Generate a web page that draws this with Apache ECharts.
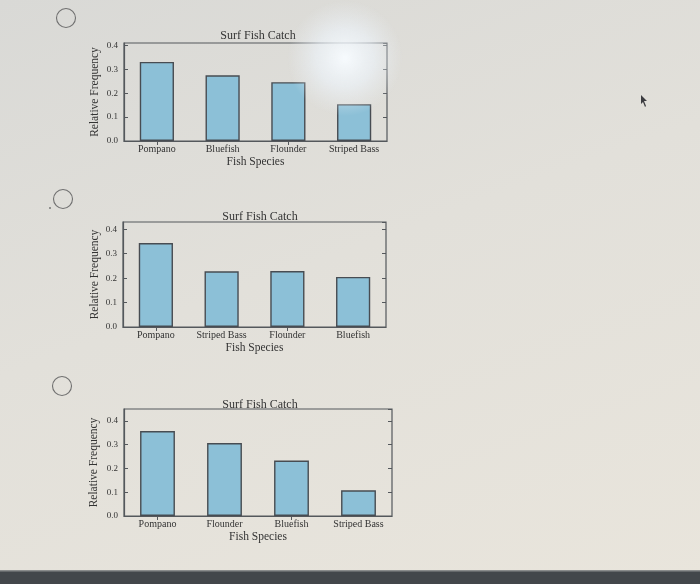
<!DOCTYPE html>
<html>
<head>
<meta charset="utf-8">
<script src="https://cdn.jsdelivr.net/npm/echarts@6/dist/echarts.min.js"></script>
<style>
html,body{margin:0;padding:0;}
body{width:700px;height:584px;overflow:hidden;
background:linear-gradient(160deg,#d9d9d6 0%,#e2e0da 45%,#e9e5dc 100%);}
#chart{width:700px;height:584px;}
</style>
</head>
<body>
<div id="chart"></div>
<script>
// ---- data ----
const chartTitle = 'Surf Fish Catch';
const xTitle = 'Fish Species';
const yTitle = 'Relative Frequency';
const categories1 = ['Pompano', 'Bluefish', 'Flounder', 'Striped Bass'];
const values1 = [0.331, 0.275, 0.246, 0.154];
const categories2 = ['Pompano', 'Striped Bass', 'Flounder', 'Bluefish'];
const values2 = [0.344, 0.228, 0.229, 0.205];
const categories3 = ['Pompano', 'Flounder', 'Bluefish', 'Striped Bass'];
const values3 = [0.357, 0.307, 0.233, 0.108];
const yMaxes = [0.41, 0.43, 0.45];
const yTickStep = 0.1;

const panels = [
  {cats: categories1, vals: values1},
  {cats: categories2, vals: values2},
  {cats: categories3, vals: values3}
];
// layout (not data)
const layout = [
  {left: 124, top: 43, width: 263, height: 98, titleX: 253, titleY: 25, yGap: 23},
  {left: 123, top: 222, width: 263, height: 105, titleX: 255, titleY: 206, yGap: 22},
  {left: 124, top: 409, width: 268, height: 107, titleX: 255, titleY: 394, yGap: 24}
];

const FONT = '"Liberation Serif", "DejaVu Serif", serif';
const TXT = '#333333';
const FRAME = '#54585c';
const BAR = '#8cc0d7';
const EDGE = '#474c52';

const grid = [], xAxis = [], yAxis = [], series = [], title = [];
panels.forEach((p, i) => {
  const L = layout[i];
  grid.push({left: L.left, top: L.top, width: L.width, height: L.height,
    show: true, borderColor: FRAME, borderWidth: 1.2, backgroundColor: 'transparent'});
  title.push({text: chartTitle, left: L.titleX, top: L.titleY, textAlign: 'center',
    textStyle: {fontFamily: FONT, fontSize: 12, fontWeight: 'normal', color: TXT}});
  xAxis.push({type: 'category', gridIndex: i, data: p.cats, position: 'bottom',
    name: xTitle, nameLocation: 'middle', nameGap: 15,
    nameTextStyle: {fontFamily: FONT, fontSize: 11.5, color: TXT},
    axisLine: {show: true, lineStyle: {color: FRAME, width: 1.2}},
    axisTick: {show: true, inside: true, alignWithLabel: true, length: 4, lineStyle: {color: FRAME}},
    axisLabel: {fontFamily: FONT, fontSize: 10, color: TXT, margin: 3, interval: 0},
    splitLine: {show: false}});
  xAxis.push({type: 'category', gridIndex: i, data: p.cats, position: 'top',
    axisLine: {show: false},
    axisTick: {show: true, inside: true, alignWithLabel: true, length: 4, lineStyle: {color: FRAME}},
    axisLabel: {show: false}, splitLine: {show: false}});
  const fmt = v => (Math.abs(v * 10 - Math.round(v * 10)) < 1e-6) ? v.toFixed(1) : '';
  yAxis.push({type: 'value', gridIndex: i, min: 0, max: yMaxes[i], interval: yTickStep,
    position: 'left',
    name: yTitle, nameLocation: 'middle', nameGap: L.yGap,
    nameTextStyle: {fontFamily: FONT, fontSize: 11.5, color: TXT},
    axisLine: {show: true, lineStyle: {color: FRAME, width: 1.2}},
    axisTick: {show: true, inside: true, length: 4, lineStyle: {color: FRAME}},
    axisLabel: {fontFamily: FONT, fontSize: 9, color: TXT, margin: 6, formatter: fmt, showMaxLabel: false},
    splitLine: {show: false}});
  yAxis.push({type: 'value', gridIndex: i, min: 0, max: yMaxes[i], interval: yTickStep,
    position: 'right',
    axisLine: {show: false},
    axisTick: {show: true, inside: true, length: 4, lineStyle: {color: FRAME}},
    axisLabel: {show: false}, splitLine: {show: false}});
  series.push({type: 'bar', xAxisIndex: i * 2, yAxisIndex: i * 2, data: p.vals,
    barWidth: '52%',
    itemStyle: {color: BAR, borderColor: EDGE, borderWidth: 1.4},
    silent: true, animation: false});
});

const graphic = [
  {type: 'circle', shape: {cx: 66, cy: 18, r: 9.5}, style: {fill: 'transparent', stroke: '#707070', lineWidth: 1.1}},
  {type: 'circle', shape: {cx: 63, cy: 199, r: 9.5}, style: {fill: 'transparent', stroke: '#707070', lineWidth: 1.1}},
  {type: 'circle', shape: {cx: 62, cy: 386, r: 9.5}, style: {fill: 'transparent', stroke: '#707070', lineWidth: 1.1}},
  {type: 'circle', shape: {cx: 50, cy: 208, r: 1}, style: {fill: '#777'}},
  {type: 'circle', z: 100, shape: {cx: 345, cy: 58, r: 58},
   style: {fill: {type: 'radial', x: 0.5, y: 0.5, r: 0.5,
     colorStops: [{offset: 0, color: 'rgba(248,252,255,0.95)'}, {offset: 0.5, color: 'rgba(238,245,252,0.6)'}, {offset: 1, color: 'rgba(235,240,245,0)'}]}}},
  {type: 'polygon', z: 100, shape: {points: [[641, 95], [647, 101], [644, 101], [646, 106], [645, 107], [643, 102], [641, 104]]},
   style: {fill: '#3c3c40'}},
  {type: 'rect', z: 100, shape: {x: 0, y: 571, width: 700, height: 13}, style: {fill: '#43474b'}},
  {type: 'rect', z: 100, shape: {x: 0, y: 570, width: 700, height: 1.5}, style: {fill: '#8a8c8c'}}
];

const chart = echarts.init(document.getElementById('chart'), null, {renderer: 'canvas'});
chart.setOption({
  backgroundColor: 'transparent',
  animation: false,
  title, grid, xAxis, yAxis, series, graphic
});
</script>
</body>
</html>
